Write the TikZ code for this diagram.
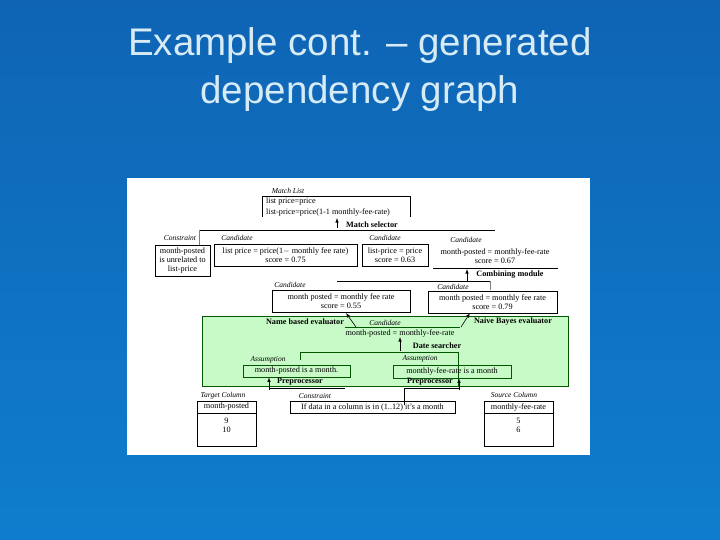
\documentclass[tikz,border=0pt]{standalone}
\usepackage{fontspec}
\setmainfont{Liberation Serif}
\newfontfamily\titlefont{Liberation Sans}
\begin{document}
\begin{tikzpicture}[x=1pt,y=-1pt,
  lbl/.style={font=\fontsize{7.5}{8}\selectfont\itshape,inner sep=0pt},
  txt/.style={font=\fontsize{8.2}{9}\selectfont,inner sep=0pt,align=center},
  bld/.style={font=\fontsize{8.2}{9}\selectfont\bfseries,inner sep=0pt},
  bx/.style={draw=black,line width=0.6pt},
  gbx/.style={draw=green!35!black,line width=0.7pt},
  ln/.style={line width=0.6pt},
  arr/.style={-latex,line width=0.6pt}]
\shade[top color={rgb,255:red,15;green,100;blue,180},bottom color={rgb,255:red,15;green,125;blue,205}] (0,0) rectangle (720,540);
\useasboundingbox (0,0) rectangle (720,540);
\node[text={rgb,255:red,215;green,235;blue,245},font=\titlefont\fontsize{38.5}{48}\selectfont,align=center] (title) at (360,70) {Example cont. – generated\\dependency graph};
\fill[white] (127,178) rectangle (590,455);
% match list
\node[lbl] (mll) at (288,191) {Match List};
\draw[bx] (262,217) |- (410,196) -- (410,217);
\node[txt,align=left,anchor=west] (ml1) at (266,202) {list price=price};
\node[txt,align=left,anchor=west] (ml2) at (266,212) {list-price=price(1-1 monthly-fee-rate)};
\fill[white] (200,217) rectangle (500,222);
\draw[ln] (199,230) -- (495,230);
\draw[ln,gray] (199,230) -- (199,245);
\node[bld] (ms) at (372,225) {Match selector};
\coordinate (msa) at (337,228); \coordinate (msb) at (337,218);
\draw[arr] (msa) -- (msb);
% row 1
\node[lbl] (c1l) at (180,238) {Constraint};
\node[bx,txt,minimum width=55pt,minimum height=31pt] (c1) at (182.5,260.5) {month-posted\\is unrelated to\\list-price};
\node[lbl] (k1l) at (237,238) {Candidate};
\node[bx,txt,minimum width=143pt,minimum height=22pt] (k1) at (285.5,255) {list price = price(1$-$ monthly fee rate)\\score = 0.75};
\node[lbl] (k2l) at (385,238) {Candidate};
\node[bx,txt,minimum width=66pt,minimum height=22pt] (k2) at (395,255) {list-price = price\\score = 0.63};
\node[lbl] (k3l) at (466,240) {Candidate};
\node[txt] (k3) at (495,256) {month-posted = monthly-fee-rate\\score = 0.67};
\draw[ln] (433,268) -- (558,268);
\node[bld] (cm) at (510,275) {Combining module};
\coordinate (cma) at (467,282); \coordinate (cmb) at (467,269);
\draw[arr] (cma) -- (cmb);
\draw[ln] (337,281) -- (490,281);
\draw[ln,gray] (490,281) -- (490,290);
% row 2
\node[lbl] (k4l) at (290,285) {Candidate};
\node[bx,txt,minimum width=138pt,minimum height=22pt] (k4) at (341,301) {month posted = monthly fee rate\\score = 0.55};
\node[lbl] (k5l) at (453,287) {Candidate};
\node[bx,txt,minimum width=129pt,minimum height=22pt] (k5) at (492.5,302) {month posted = monthly fee rate\\score = 0.79};
% green area
\draw[green!35!black,fill={rgb,255:red,200;green,250;blue,200},line width=0.6pt] (202,316) rectangle (568,386);
\node[bld] (nbe) at (305,322) {Name based evaluator};
\node[bld] (nbv) at (513,322) {Naive Bayes evaluator};
\coordinate (n1a) at (356,327); \coordinate (n1b) at (346,313);
\draw[arr] (n1a) -- (n1b);
\coordinate (n2a) at (461,327); \coordinate (n2b) at (470,313);
\draw[arr] (n2a) -- (n2b);
\node[lbl] (k6l) at (385,323) {Candidate};
\draw[gbx] (345,327) -- (460,327);
\node[txt] (k6) at (400,333) {month-posted = monthly-fee-rate};
\node[bld] (ds) at (437,346) {Date searcher};
\coordinate (dsa) at (400,351); \coordinate (dsb) at (400,337);
\draw[arr] (dsa) -- (dsb);
\draw[gbx] (300,360) |- (458,352) -- (458,386);
\node[lbl] (a1l) at (268,360) {Assumption};
\node[gbx,txt,minimum width=107pt,minimum height=12pt] (a1) at (296.5,371) {month-posted is a month.};
\node[lbl] (a2l) at (420,359) {Assumption};
\node[gbx,txt,minimum width=118pt,minimum height=13pt] (a2) at (452,371.5) {monthly-fee-rate is a month};
% preprocessors
\node[bld] (p1) at (300,382) {Preprocessor};
\node[bld] (p2) at (430,382) {Preprocessor};
\coordinate (p1a) at (269,390); \coordinate (p2a) at (459,390);
\draw[arr] (p1a) -- (a1.south -| p1a);
\draw[arr] (p2a) -- (a2.south -| p2a);
\draw[ln] (269,388) -- (345,388);
\draw[ln] (404,405) |- (459,388);
% bottom
\node[lbl] (tcl) at (223,396) {Target Column};
\draw[bx] (197,401) rectangle (256,446);
\draw[ln] (197,413) -- (256,413);
\node[txt] (tc) at (226.5,407) {month-posted};
\node[txt] (tcv) at (226.5,425) {9\\10};
\node[lbl] (ccl) at (315,396) {Constraint};
\node[bx,txt,minimum width=165pt,minimum height=12pt] (cc) at (372.5,407) {If data in a column is in (1..12) it's a month};
\node[lbl] (scl) at (514,395) {Source Column};
\draw[bx] (484,401) rectangle (553,446);
\draw[ln] (484,413) -- (553,413);
\node[txt] (sc) at (518.5,407) {monthly-fee-rate};
\node[txt] (scv) at (518.5,425) {5\\6};
\end{tikzpicture}
\end{document}
